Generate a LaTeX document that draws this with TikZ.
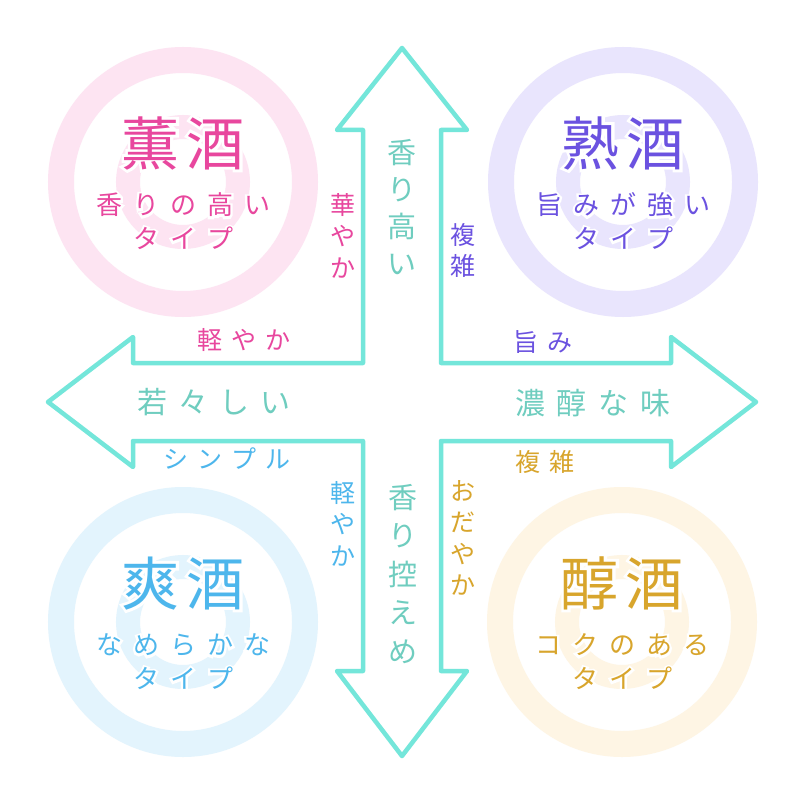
\documentclass[tikz,border=0pt]{standalone}
\usepackage{fontspec}
\setmainfont{Noto Sans CJK JP}
\newfontfamily\halotitle{Noto Sans CJK JP}[FakeBold=10]
\newfontfamily\halosub{Noto Sans CJK JP}[FakeBold=18]
\definecolor{arrowc}{HTML}{74E6DA}
\definecolor{tealtxt}{HTML}{6FCDBF}
\definecolor{pinkt}{HTML}{E8479E}
\definecolor{pinkr}{HTML}{FDE4F2}
\definecolor{purpt}{HTML}{6B52E0}
\definecolor{purpr}{HTML}{E9E5FD}
\definecolor{bluet}{HTML}{4DB6EC}
\definecolor{bluer}{HTML}{E3F4FD}
\definecolor{goldt}{HTML}{D8A52C}
\definecolor{goldr}{HTML}{FEF5E4}
\tikzset{
  chs/.style={inner sep=0pt, font=\fontsize{#1}{#1}\selectfont,
    text height={0.88*#1 pt}, text depth={0.12*#1 pt}},
  ringouter/.style={line width=26pt},
  ringinner/.style={line width=24pt},
  crossarrow/.style={draw=arrowc, line width=4.5pt, line join=round, fill=white}
}
% name, x0, y0, dx, dy, style, list
\newcommand{\chrow}[7]{%
  \foreach \c [count=\i from 0] in {#7} {
    \node[#6] (#1-\i) at ({#2+\i*#4},{#3+\i*#5}) {\c};
  }}
% name, x0, y0, dx, dy, style, list, halo font: a white emboldened copy behind the text
\newcommand{\chrowhalo}[8]{%
  \foreach \c [count=\i from 0] in {#7} {
    \node[#6,text=white] (#1-h\i) at ({#2+\i*#4},{#3+\i*#5}) {#8\c};
    \node[#6] (#1-\i) at ({#2+\i*#4},{#3+\i*#5}) {\c};
  }}
% circle: name, cx, cy, ring colour, text colour, title list, line1 list
\newcommand{\sakecircle}[7]{%
  \draw[ringouter,#4] (#2,#3) circle[radius=122];
  \draw[ringinner,#4] (#2,#3) circle[radius=55];
  \chrowhalo{#1t}{#2-32.5}{#3-39}{65}{0}{chs=58,text=#5}{#6}{\halotitle}
  \chrowhalo{#1a}{#2-74}{#3+23}{37}{0}{chs=26,text=#5}{#7}{\halosub}
  \chrowhalo{#1b}{#2-37}{#3+57}{37}{0}{chs=26,text=#5}{タ,イ,プ}{\halosub}
}
\begin{document}
\begin{tikzpicture}[x=1pt,y=-1pt]
\fill[white] (0,0) rectangle (805,805);
\useasboundingbox (0,0) rectangle (805,805);

\sakecircle{kun}{183}{182}{pinkr}{pinkt}{薫,酒}{香,り,の,高,い}
\sakecircle{juku}{623}{182}{purpr}{purpt}{熟,酒}{旨,み,が,強,い}
\sakecircle{sou}{183}{622}{bluer}{bluet}{爽,酒}{な,め,ら,か,な}
\sakecircle{jun}{622}{622}{goldr}{goldt}{醇,酒}{コ,ク,の,あ,る}

% cross of four arrows
\draw[crossarrow]
  (402,48) -- (467,130) -- (441,130) -- (441,363) -- (671,363) -- (671,337)
  -- (756,402) -- (671,467) -- (671,441) -- (441,441) -- (441,671) -- (467,671)
  -- (402,756) -- (337,671) -- (363,671) -- (363,441) -- (133,441) -- (133,467)
  -- (48,402) -- (133,337) -- (133,363) -- (363,363) -- (363,130) -- (337,130)
  -- cycle;

% axis labels
\chrow{up}{402}{152}{0}{37}{chs=29,text=tealtxt}{香,り,高,い}
\chrow{down}{403}{497}{0}{38.5}{chs=29,text=tealtxt}{香,り,控,え,め}
\chrow{left}{152}{402}{41}{0}{chs=30,text=tealtxt}{若,々,し,い}
\chrow{right}{530}{403}{41.7}{0}{chs=30,text=tealtxt}{濃,醇,な,味}

% quadrant labels
\chrow{hana}{343}{204.5}{0}{31.5}{chs=25,text=pinkt}{華,や,か}
\chrow{karuA}{209.5}{340}{34}{0}{chs=25,text=pinkt}{軽,や,か}
\chrow{fukuA}{463}{234.5}{0}{31.5}{chs=25,text=purpt}{複,雑}
\chrow{uma}{525.5}{342}{34}{0}{chs=25,text=purpt}{旨,み}
\chrow{simp}{175.5}{459}{34}{0}{chs=25,text=bluet}{シ,ン,プ,ル}
\chrow{karuB}{343}{492.5}{0}{31.5}{chs=25,text=bluet}{軽,や,か}
\chrow{fukuB}{527.5}{462}{34}{0}{chs=25,text=goldt}{複,雑}
\chrow{oda}{463}{490.5}{0}{31.5}{chs=25,text=goldt}{お,だ,や,か}
\end{tikzpicture}
\end{document}
